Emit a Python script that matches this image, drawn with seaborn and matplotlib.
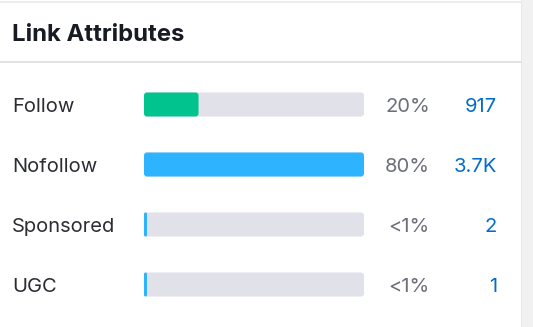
import matplotlib
matplotlib.use("Agg")
import matplotlib.pyplot as plt
import seaborn as sns
import pandas as pd
from matplotlib.patches import FancyBboxPatch, Rectangle
from matplotlib.transforms import blended_transform_factory, offset_copy

categories = ["Follow", "Nofollow", "Sponsored", "UGC"]
counts = [917, 3700, 2, 1]
count_labels = ["917", "3.7K", "2", "1"]
pct_labels = ["20%", "80%", "<1%", "<1%"]
bar_colors = ["#00C38D", "#2DB3FF", "#2DB3FF", "#2DB3FF"]
title = "Link Attributes"

sns.set_theme(style="white")
plt.rcParams['font.family'] = ['Inter', 'DejaVu Sans']

W, H = 533, 327
fig = plt.figure(figsize=(W / 100, H / 100), dpi=100)
fig.patch.set_facecolor("white")

fig.add_artist(Rectangle((522 / W, 0), 11 / W, 1, transform=fig.transFigure,
                         facecolor="#F1F1F1", edgecolor="none"))
fig.add_artist(Rectangle((521 / W, 0), 1.2 / W, 1, transform=fig.transFigure,
                         facecolor="#E6E6E6", edgecolor="none"))
fig.add_artist(Rectangle((0, 1 - 2.5 / H), 522 / W, 1.5 / H, transform=fig.transFigure,
                         facecolor="#ECECEC", edgecolor="none"))
fig.add_artist(Rectangle((0, 1 - 62.5 / H), 522 / W, 1.5 / H, transform=fig.transFigure,
                         facecolor="#E2E2E2", edgecolor="none"))

fig.text(12 / W, 1 - 41 / H, title, fontsize=17.2, fontweight="bold",
         color="#191B23", va="baseline", ha="left")

top_px, bot_px = 74.5, 314.5
left_px, right_px = 144, 364
ax = fig.add_axes([left_px / W, 1 - bot_px / H, (right_px - left_px) / W, (bot_px - top_px) / H])
ax.set_facecolor("none")

vmax = max(counts)
df = pd.DataFrame({"category": categories, "count": counts, "track": [vmax] * len(counts)})

sns.barplot(data=df, y="category", x="track", color="#E0E1E9", width=0.4,
            orient="h", ax=ax, saturation=1)
sns.barplot(data=df, y="category", x="count", hue="category",
            palette=bar_colors, width=0.4, orient="h", ax=ax, saturation=1, legend=False)

ax.set_xlim(0, vmax)
ax.set_ylim(3.5, -0.5)

x_per_px = vmax / (right_px - left_px)
y_per_px = 4 / (bot_px - top_px)
min_w = 3 * x_per_px
rects = list(ax.patches)
for r in rects:
    x0, y0 = r.get_x(), r.get_y()
    w, h = r.get_width(), r.get_height()
    fc = r.get_facecolor()
    r.remove()
    if w <= 0:
        continue
    w = max(w, min_w)
    rad = 3 * x_per_px
    if w < 2 * rad:
        rad = w / 2
    p = FancyBboxPatch((x0, y0), w, h,
                       boxstyle=f"round,pad=0,rounding_size={rad}",
                       mutation_aspect=y_per_px / x_per_px,
                       facecolor=fc, edgecolor="none")
    ax.add_patch(p)

ax.set_xlabel("")
ax.set_ylabel("")
ax.set_xticks([])
ax.set_yticks([])
for s in ax.spines.values():
    s.set_visible(False)

tr = blended_transform_factory(fig.transFigure, ax.transData)
# baseline ~7.5 px below bar centre (in points: 7.5 * 72/100)
tr_text = offset_copy(tr, fig=fig, x=0, y=-7.5 * 72 / 100, units="points")
fs = 14.5
for i, cat in enumerate(categories):
    ax.text(12 / W, i, cat, transform=tr_text, ha="left", va="baseline",
            fontsize=fs, color="#2B2D33")
    ax.text(430 / W, i, pct_labels[i], transform=tr_text, ha="right", va="baseline",
            fontsize=fs, color="#6C6E79")
    ax.text(497 / W, i, count_labels[i], transform=tr_text, ha="right", va="baseline",
            fontsize=fs, color="#006DCA")

fig.savefig("out.png", dpi=100, facecolor="white")
